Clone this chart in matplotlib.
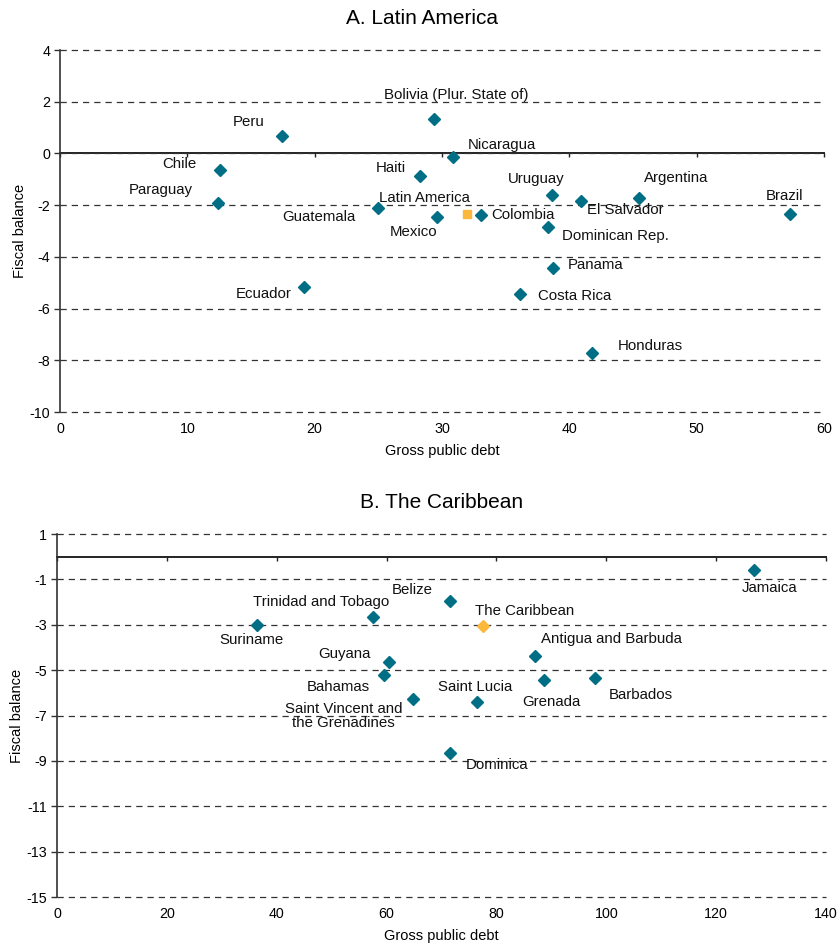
import matplotlib
matplotlib.use("Agg")
import matplotlib.pyplot as plt

plt.rcParams['font.family'] = ['Liberation Sans', 'DejaVu Sans']
plt.rcParams['axes.unicode_minus'] = False

# ---------------- data ----------------
la_names = ["Peru", "Bolivia (Plur. State of)", "Nicaragua", "Chile", "Haiti", "Paraguay",
            "Guatemala", "Mexico", "Colombia", "Uruguay", "El Salvador", "Argentina",
            "Brazil", "Dominican Rep.", "Panama", "Costa Rica", "Ecuador", "Honduras"]
la_debt = [17.4, 29.4, 30.9, 12.6, 28.3, 12.4, 25.0, 29.6, 33.1, 38.6, 40.9, 45.5,
           57.3, 38.3, 38.7, 36.1, 19.2, 41.8]
la_balance = [0.68, 1.33, -0.14, -0.64, -0.87, -1.91, -2.10, -2.46, -2.38, -1.60, -1.84,
              -1.72, -2.34, -2.84, -4.43, -5.43, -5.16, -7.71]
la_avg_name = "Latin America"
la_avg_debt = 32.0
la_avg_balance = -2.34

cb_names = ["Jamaica", "Belize", "Trinidad and Tobago", "Suriname", "Antigua and Barbuda",
            "Guyana", "Bahamas", "Grenada", "Barbados", "Saint Lucia",
            "Saint Vincent and\nthe Grenadines", "Dominica"]
cb_debt = [126.9, 71.5, 57.6, 36.5, 87.1, 60.5, 59.5, 88.7, 98.0, 76.5, 64.9, 71.6]
cb_balance = [-0.59, -1.95, -2.66, -3.00, -4.38, -4.64, -5.20, -5.44, -5.34, -6.40, -6.27, -8.65]
cb_avg_name = "The Caribbean"
cb_avg_debt = 77.6
cb_avg_balance = -3.05

la_yticks = [4, 2, 0, -2, -4, -6, -8, -10]
la_xticks = [0, 10, 20, 30, 40, 50, 60]
cb_yticks = [1, -1, -3, -5, -7, -9, -11, -13, -15]
cb_xticks = [0, 20, 40, 60, 80, 100, 120, 140]

# ---------------- label offsets (pixels) ----------------
la_offsets = {
    "Peru": (-33, 14), "Bolivia (Plur. State of)": (22, 24), "Nicaragua": (48, 12),
    "Chile": (-41, 6), "Haiti": (-30, 8), "Paraguay": (-57, 13), "Guatemala": (-59, -9),
    "Mexico": (-23, -15), "Colombia": (41, 0), "Uruguay": (-15, 16), "El Salvador": (45, -9),
    "Argentina": (37, 20), "Brazil": (-5, 18), "Dominican Rep.": (68, -9), "Panama": (43, 3),
    "Costa Rica": (55, -2), "Ecuador": (-41, -7), "Honduras": (58, 7),
    "Latin America": (-43, 16),
}
cb_offsets = {
    "Jamaica": (16, -18), "Belize": (-37, 11), "Trinidad and Tobago": (-52, 15),
    "Suriname": (-6, -15), "Antigua and Barbuda": (76, 17), "Guyana": (-45, 8),
    "Bahamas": (-46, -12), "Grenada": (7, -22), "Barbados": (46, -17),
    "Saint Lucia": (-2, 15), "Saint Vincent and\nthe Grenadines": (-70, -17),
    "Dominica": (47, -12), "The Caribbean": (41, 15),
}

TEAL = "#006f85"
GOLD = "#fbb83a"
W, H = 839, 947

fig = plt.figure(figsize=(W / 100, H / 100), dpi=100)


def make_axes(l, t, r, b):
    return fig.add_axes([l / W, 1 - b / H, (r - l) / W, (b - t) / H])


def style(ax, xticks, yticks):
    ax.set_xlim(xticks[0], xticks[-1])
    ax.set_ylim(min(yticks), max(yticks))
    ax.set_yticks(yticks)
    ax.set_xticks(xticks)
    for y in yticks:
        ax.axhline(y, color="#333333", lw=0.9, ls=(0, (5, 4)), zorder=1, clip_on=False)
    for s in ["top", "right", "bottom"]:
        ax.spines[s].set_visible(False)
    ax.spines["left"].set_color("#333333")
    ax.spines["left"].set_linewidth(1.2)
    ax.tick_params(axis="y", direction="out", length=4, width=1, color="#333333",
                   labelsize=10.3, pad=3)
    ax.tick_params(axis="x", length=0, labelsize=10.3, pad=7)
    zero_frac = (0 - min(yticks)) / (max(yticks) - min(yticks))
    sec = ax.secondary_xaxis(zero_frac)
    sec.set_alignment("bottom")
    sec.set_xticks(xticks)
    sec.tick_params(axis="x", direction="out", length=3, width=1, color="#222222",
                    labelbottom=False, labeltop=False)
    sec.spines["bottom"].set_visible(True)
    sec.spines["bottom"].set_color("#222222")
    sec.spines["bottom"].set_linewidth(1.4)
    sec.spines["top"].set_visible(False)
    ax.set_xlabel("Gross public debt", fontsize=10.5, labelpad=6)
    ax.set_ylabel("Fiscal balance", fontsize=10.5, labelpad=2)


def annotate(ax, names, xs, ys, offsets):
    for n, x, y in zip(names, xs, ys):
        dx, dy = offsets[n]
        ax.annotate(n, (x, y), xytext=(dx, dy), textcoords="offset pixels",
                    ha="center", va="center", fontsize=10.8, color="#111111",
                    linespacing=1.0, zorder=5)


# ---- Panel A ----
ax1 = make_axes(60, 50, 824, 412)
style(ax1, la_xticks, la_yticks)
ax1.plot(la_debt, la_balance, ls="none", marker="D", ms=6, color=TEAL, zorder=4)
ax1.plot([la_avg_debt], [la_avg_balance], ls="none", marker="s", ms=5.8, color=GOLD, zorder=4)
annotate(ax1, la_names, la_debt, la_balance, la_offsets)
annotate(ax1, [la_avg_name], [la_avg_debt], [la_avg_balance], la_offsets)
fig.text(422 / W, 1 - 18 / H, "A. Latin America", ha="center", va="center", fontsize=15)

# ---- Panel B ----
ax2 = make_axes(57, 534, 826, 897)
style(ax2, cb_xticks, cb_yticks)
ax2.plot(cb_debt, cb_balance, ls="none", marker="D", ms=6, color=TEAL, zorder=4)
ax2.plot([cb_avg_debt], [cb_avg_balance], ls="none", marker="D", ms=6, color=GOLD, zorder=4)
annotate(ax2, cb_names, cb_debt, cb_balance, cb_offsets)
annotate(ax2, [cb_avg_name], [cb_avg_debt], [cb_avg_balance], cb_offsets)
fig.text(442 / W, 1 - 502 / H, "B. The Caribbean", ha="center", va="center", fontsize=15)

fig.savefig("out.png", dpi=100)
